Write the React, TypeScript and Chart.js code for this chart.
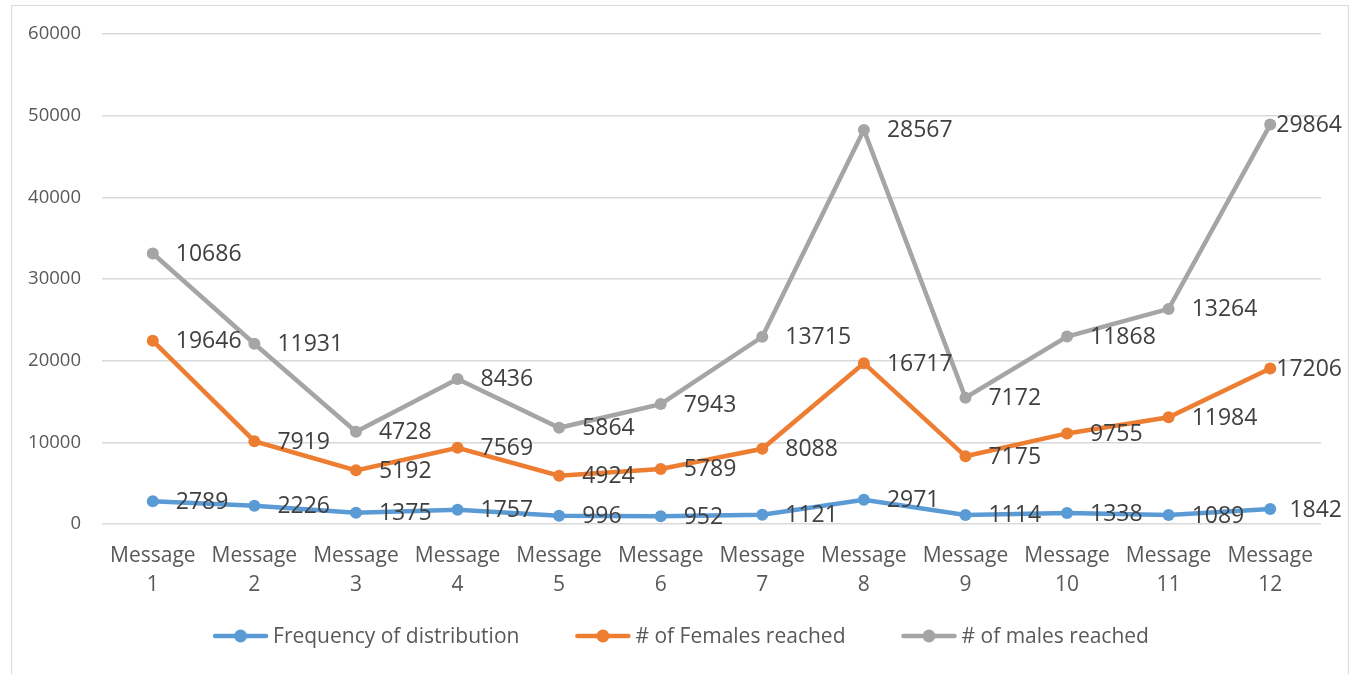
import React, { useEffect, useRef } from "react";
import { Chart, registerables } from "chart.js";

Chart.register(...registerables);

const categories: string[][] = [
  ["Message", "1"], ["Message", "2"], ["Message", "3"], ["Message", "4"],
  ["Message", "5"], ["Message", "6"], ["Message", "7"], ["Message", "8"],
  ["Message", "9"], ["Message", "10"], ["Message", "11"], ["Message", "12"],
];
const seriesNames = ["Frequency of distribution", "# of Females reached", "# of males reached"];
const frequency = [2789, 2226, 1375, 1757, 996, 952, 1121, 2971, 1114, 1338, 1089, 1842];
const females = [19646, 7919, 5192, 7569, 4924, 5789, 8088, 16717, 7175, 9755, 11984, 17206];
const males = [10686, 11931, 4728, 8436, 5864, 7943, 13715, 28567, 7172, 11868, 13264, 29864];
const seriesColors = ["#5B9BD5", "#ED7D31", "#A5A5A5"];
const yMin = 0;
const yMax = 60000;
const yStep = 10000;

const FONT = "'Open Sans', sans-serif";

const valueLabelPlugin = {
  id: "valueLabels",
  afterDatasetsDraw(chart: any) {
    const ctx = chart.ctx;
    ctx.save();
    ctx.font = `23px ${FONT}`;
    ctx.fillStyle = "#404040";
    ctx.textBaseline = "middle";
    ctx.textAlign = "left";
    const maxRight = chart.width - 14;
    chart.data.datasets.forEach((ds: any, i: number) => {
      const meta = chart.getDatasetMeta(i);
      meta.data.forEach((pt: any, j: number) => {
        const text = String(ds.data[j]);
        const w = ctx.measureText(text).width;
        let x = pt.x + 23;
        if (x + w > maxRight) x = maxRight - w;
        ctx.fillText(text, x, pt.y + 1);
      });
    });
    ctx.restore();
  },
};

const legendPlugin = {
  id: "customLegend",
  afterDraw(chart: any) {
    const ctx = chart.ctx;
    ctx.save();
    ctx.font = `21px ${FONT}`;
    const markerW = 55;
    const gapText = 5;
    const gapItem = 56;
    const items = chart.data.datasets.map((ds: any) => ({
      label: ds.label,
      color: ds.borderColor,
      w: ctx.measureText(ds.label).width,
    }));
    const total =
      items.reduce((s: number, it: any) => s + markerW + gapText + it.w, 0) +
      gapItem * (items.length - 1);
    let x = (chart.width - total) / 2 + 3;
    const y = 636;
    items.forEach((it: any) => {
      ctx.strokeStyle = it.color;
      ctx.lineWidth = 4.5;
      ctx.lineCap = "round";
      ctx.beginPath();
      ctx.moveTo(x + 2, y);
      ctx.lineTo(x + markerW - 2, y);
      ctx.stroke();
      ctx.fillStyle = it.color;
      ctx.beginPath();
      ctx.arc(x + markerW / 2, y, 6.5, 0, Math.PI * 2);
      ctx.fill();
      ctx.fillStyle = "#595959";
      ctx.textAlign = "left";
      ctx.textBaseline = "middle";
      ctx.fillText(it.label, x + markerW + gapText, y + 1);
      x += markerW + gapText + it.w + gapItem;
    });
    ctx.restore();
  },
};

export default function App() {
  const canvasRef = useRef<HTMLCanvasElement | null>(null);

  useEffect(() => {
    if (!canvasRef.current) return;
    const seriesData = [frequency, females, males];
    const chart = new Chart(canvasRef.current, {
      type: "line",
      data: {
        labels: categories,
        datasets: seriesData.map((d, i) => ({
          label: seriesNames[i],
          data: d,
          borderColor: seriesColors[i],
          backgroundColor: seriesColors[i],
          pointBackgroundColor: seriesColors[i],
          pointBorderColor: seriesColors[i],
          borderWidth: 4.5,
          pointRadius: 6,
          pointBorderWidth: 0,
          fill: false,
          tension: 0,
        })),
      },
      options: {
        responsive: false,
        animation: false,
        layout: { padding: { left: 0, right: 35, top: 34, bottom: 70 } },
        plugins: {
          legend: { display: false },
          tooltip: { enabled: false },
        },
        scales: {
          x: {
            offset: true,
            grid: { display: false, drawTicks: false },
            border: { display: false },
            ticks: {
              color: "#595959",
              font: { family: FONT, size: 21, lineHeight: 1.35 },
              padding: 18,
              maxRotation: 0,
              autoSkip: false,
            },
            afterFit: (s: any) => {
              s.height = 80;
            },
          },
          y: {
            stacked: true,
            min: yMin,
            max: yMax,
            grid: { color: "#D9D9D9", lineWidth: 1.5, drawTicks: false },
            border: { display: false },
            ticks: {
              stepSize: yStep,
              color: "#595959",
              font: { family: FONT, size: 18.5 },
              padding: 21,
              callback: (v: any) => String(v),
            },
            afterFit: (s: any) => {
              s.width = 102;
            },
          },
        },
      },
      plugins: [valueLabelPlugin, legendPlugin],
    });
    return () => chart.destroy();
  }, []);

  return (
    <div
      style={{
        position: "fixed",
        left: 0,
        top: 0,
        width: 1356,
        height: 674,
        overflow: "hidden",
        background: "#ffffff",
      }}
    >
      <div
        style={{
          position: "absolute",
          left: 11,
          top: 5,
          width: 1338,
          height: 720,
          border: "1.5px solid #D9D9D9",
          boxSizing: "border-box",
        }}
      />
      <canvas
        ref={canvasRef}
        width={1356}
        height={674}
        style={{ position: "absolute", left: 0, top: 0, width: 1356, height: 674 }}
      />
    </div>
  );
}
